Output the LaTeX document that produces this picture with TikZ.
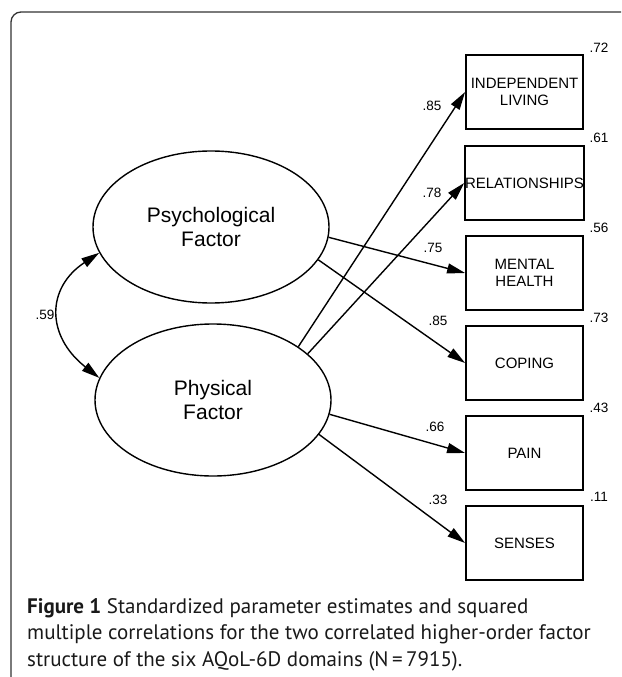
\documentclass[tikz,border=0pt]{standalone}
\usepackage{fontspec}
\setmainfont{Liberation Sans}
\newfontfamily\capfont{PT Sans}
\usetikzlibrary{arrows.meta}
\usetikzlibrary{shapes.geometric}

\begin{document}
\begin{tikzpicture}[x=1pt, y=-1pt, >={Triangle[length=18pt,width=10pt]},
    factor/.style={draw, ellipse, line width=1.4pt, minimum width=236pt, minimum height=152pt,
        inner sep=0pt, align=center, font=\fontsize{21}{24.5}\selectfont},
    domainbox/.style={draw, rectangle, line width=1.8pt, minimum width=117pt, minimum height=74pt,
        inner sep=0pt, align=center, font=\fontsize{15}{17}\selectfont},
    est/.style={inner sep=0pt, font=\fontsize{13.5}{15}\selectfont},
    loading/.style={->, line width=1.4pt},
    captext/.style={anchor=base west, inner sep=0pt, text=black!90,
        font=\capfont\fontsize{21}{26}\selectfont}]

    % Page size and frame (open to the right and bottom)
    \useasboundingbox (0,0) rectangle (621,677);
    \draw[rounded corners=10pt, line width=1.3pt, black!80] (621,12) -- (11,12) -- (11,677);

    % Latent factors
    \node[factor] (psy) at (211,227) {Psychological\\Factor};
    \node[factor] (phy) at (213,400) {Physical\\Factor};

    % Domains
    \node[domainbox] (indep)  at (524.5,92)  {INDEPENDENT\\LIVING};
    \node[domainbox] (relat)  at (524.5,183) {RELATIONSHIPS};
    \node[domainbox] (mental) at (524.5,273) {MENTAL\\HEALTH};
    \node[domainbox] (coping) at (524.5,363) {COPING};
    \node[domainbox] (pain)   at (524.5,453) {PAIN};
    \node[domainbox] (senses) at (524.5,543) {SENSES};

    % Squared multiple correlations
    \node[est] (r72) at (599,48)  {.72};
    \node[est] (r61) at (599,138) {.61};
    \node[est] (r56) at (599,228) {.56};
    \node[est] (r73) at (599,318) {.73};
    \node[est] (r43) at (599,408) {.43};
    \node[est] (r11) at (599,497) {.11};

    % Correlation between factors
    \draw[<->, line width=1.4pt] (psy.193) .. controls (46,288) and (46,336) .. (phy.169);
    \node[est] (c59) at (45,315) {.59};

    % Loadings
    \draw[loading] (phy.32)  -- (indep.west);
    \draw[loading] (phy.26)  -- (relat.west);
    \draw[loading] (psy.-5)  -- (mental.west);
    \draw[loading] (psy.-17) -- (coping.west);
    \draw[loading] (phy.-7)  -- (pain.west);
    \draw[loading] (phy.-18) -- (senses.west);

    % Loading labels
    \node[est] (l85a) at (432,106) {.85};
    \node[est] (l78)  at (432,193) {.78};
    \node[est] (l75)  at (433,248) {.75};
    \node[est] (l85b) at (438,321) {.85};
    \node[est] (l66)  at (435,427) {.66};
    \node[est] (l33)  at (438,500) {.33};

    % Caption
    \node[captext] (cap1) at (27,613) {\textbf{Figure 1} Standardized parameter estimates and squared};
    \node[captext] (cap2) at (27,639) {multiple correlations for the two correlated higher-order factor};
    \node[captext] (cap3) at (27,666) {structure of the six AQoL-6D domains (N\,=\,7915).};

\end{tikzpicture}
\end{document}
